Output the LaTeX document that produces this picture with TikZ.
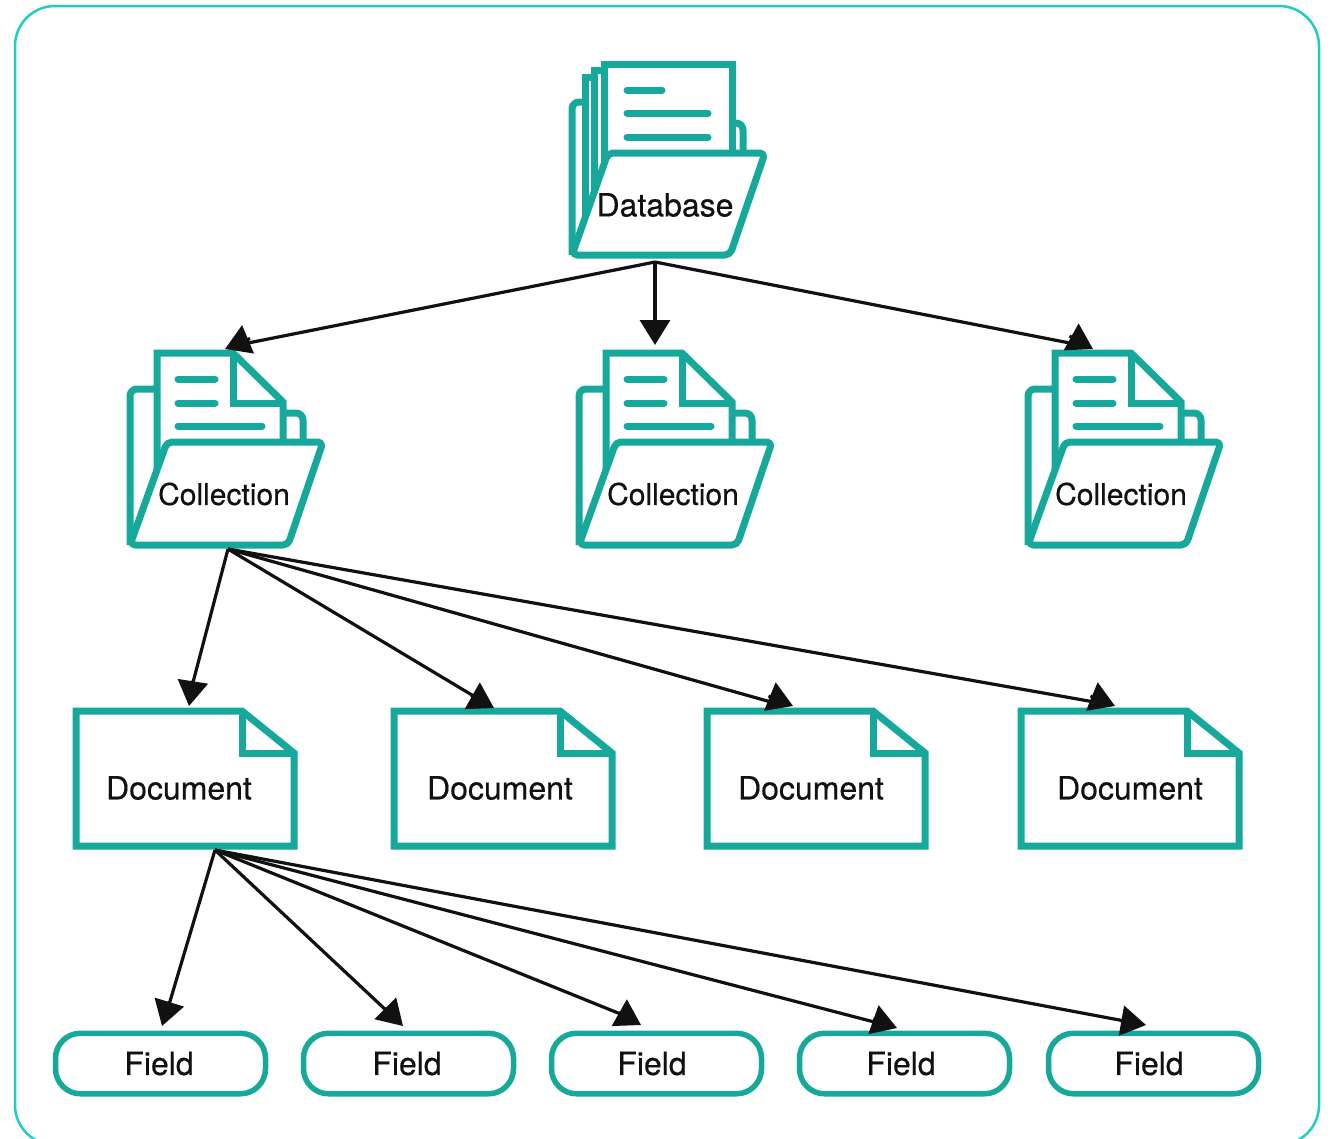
\documentclass[tikz,border=0pt]{standalone}
\usepackage{fontspec}
\setmainfont{TeX Gyre Heros}
\newfontfamily\labfont[FakeBold=0.4]{TeX Gyre Heros}
\usetikzlibrary{arrows.meta}
\definecolor{teal1}{HTML}{16A89B}
\definecolor{frame1}{HTML}{1FCDC4}
\definecolor{ink}{HTML}{111111}
\tikzset{
  icon/.style={draw=teal1,line width=7pt,line join=round,fill=white},
  sharp/.style={draw=teal1,line width=7pt,line join=miter,miter limit=10,fill=white},
  textline/.style={draw=teal1,line width=7pt,line cap=round},
  lab/.style={text=ink,font=\labfont\fontsize{32}{32}\selectfont,inner sep=0pt},
  collab/.style={lab,font=\labfont\fontsize{30}{30}\selectfont},
  fieldbox/.style={draw=teal1,line width=5.5pt,rounded corners=25pt,fill=white,minimum width=210pt,minimum height=60.5pt,inner sep=0pt,text=ink,font=\labfont\fontsize{32}{32}\selectfont},
  conn/.style={draw=ink,line width=3.2pt,line join=round,-{Triangle[length=25pt,width=30pt]}},
}
\newcommand{\collicon}[3]{%
  \begin{scope}[xshift=#2pt]
    \draw[icon,fill=none,rounded corners=7pt] (130,545) -- (130,389) -- (160,389);
    \draw[icon,fill=none,rounded corners=7pt] (270,413) -- (303,413) -- (303,445);
    \draw[sharp] (157,470) -- (157,353) -- (233,353) -- (283,402) -- (283,470);
    \draw[icon,line join=miter,fill=none] (233,353) -- (233,403) -- (283,403);
    \draw[textline] (178,379) -- (215,379);
    \draw[textline] (178,403) -- (215,403);
    \draw[textline] (178,426) -- (262,426);
    \draw[icon,rounded corners=5pt] (167,442) -- (323,442) -- (288,545) -- (130,545) -- cycle;
    \node[collab] (#1) at (#3,494) {Collection};
  \end{scope}}
\newcommand{\docicon}[3]{%
  \begin{scope}[xshift=#2pt]
    \draw[sharp] (76,711) -- (242,711) -- (294,753) -- (294,846) -- (76,846) -- cycle;
    \draw[icon,line join=miter,fill=none] (242,711) -- (242,753) -- (294,753);
    \node[lab] (#1) at (#3,788) {Document};
  \end{scope}}
\newcommand{\tipset}[7]{% name, line end, head base, head tip
  \coordinate (#1end) at (#2,#3);
  \coordinate (#1mid) at (#4,#5);
  \coordinate (#1tip) at (#6,#7);}
\begin{document}
\begin{tikzpicture}[x=1pt,y=-1pt]
\useasboundingbox (0,0) rectangle (1332,1138);
\fill[white] (0,0) rectangle (1332,1138);
\draw[frame1,line width=2.5pt,rounded corners=40pt] (15,6) rectangle (1319,1145);

% Database icon
\draw[icon,fill=none,rounded corners=7pt] (572,255) -- (572,102) -- (588,102);
\draw[icon,fill=none,rounded corners=7pt] (725,123) -- (743,123) -- (743,156);
\draw[sharp] (585,218) -- (585,77) -- (604,77) -- (604,218);
\draw[sharp] (594,192) -- (594,70) -- (610,70) -- (610,192);
\draw[sharp] (604,165) -- (604,64) -- (732,64) -- (732,165);
\draw[textline] (627,90) -- (662,90);
\draw[textline] (627,113) -- (708,113);
\draw[textline] (627,137) -- (708,137);
\draw[icon,rounded corners=5pt] (608,153) -- (765,153) -- (730,255) -- (572,255) -- cycle;
\node[lab] (db) at (665,205) {Database};
\coordinate (dbout) at (655,262);

% Collections
\collicon{ca}{0}{224}
\collicon{cb}{449}{224}
\collicon{cc}{898}{223}
\coordinate (caout) at (228,549);
\tipset{ca}{238}{345}{250}{338.5}{225}{349}
\tipset{cb}{655}{330}{655}{319.5}{655}{345}
\tipset{cc}{1080}{345}{1069.5}{336}{1093}{349}

% Documents
\docicon{da}{0}{179}
\docicon{dbb}{318}{182}
\docicon{dc}{631}{180}
\docicon{dd}{945}{185}
\coordinate (daout) at (215,850);
\tipset{da}{191}{690}{193}{680.5}{189}{706}
\tipset{dbb}{482}{701}{471}{695}{494}{708}
\tipset{dc}{778}{704}{768.5}{696}{793}{706}
\tipset{dd}{1100}{703}{1090.5}{696}{1115}{706}

% Fields
\node[fieldbox] (fa) at (160.5,1063.5) {\hspace*{-3pt}Field};
\node[fieldbox] (fb) at (408.5,1063.5) {\hspace*{-3pt}Field};
\node[fieldbox] (fc) at (656.5,1063.5) {\hspace*{-9pt}Field};
\node[fieldbox] (fd) at (904.5,1063.5) {\hspace*{-7pt}Field};
\node[fieldbox] (fe) at (1153.5,1063.5) {\hspace*{-9pt}Field};
\tipset{fa}{168}{1008}{169.5}{1001.5}{162}{1026}
\tipset{fb}{388}{1012}{385}{1008}{403}{1026}
\tipset{fc}{628}{1017}{619}{1012.5}{641}{1025}
\tipset{fd}{882}{1024}{873}{1019.5}{897}{1028}
\tipset{fe}{1130}{1022}{1120.5}{1020.5}{1146}{1025}

% Connectors
\draw[conn] (dbout) -- (caend) (camid) -- (catip);
\draw[conn] (dbout) -- (cbend) (cbmid) -- (cbtip);
\draw[conn] (dbout) -- (ccend) (ccmid) -- (cctip);
\draw[conn] (caout) -- (daend) (damid) -- (datip);
\draw[conn] (caout) -- (dbbend) (dbbmid) -- (dbbtip);
\draw[conn] (caout) -- (dcend) (dcmid) -- (dctip);
\draw[conn] (caout) -- (ddend) (ddmid) -- (ddtip);
\draw[conn] (daout) -- (faend) (famid) -- (fatip);
\draw[conn] (daout) -- (fbend) (fbmid) -- (fbtip);
\draw[conn] (daout) -- (fcend) (fcmid) -- (fctip);
\draw[conn] (daout) -- (fdend) (fdmid) -- (fdtip);
\draw[conn] (daout) -- (feend) (femid) -- (fetip);
\end{tikzpicture}
\end{document}
